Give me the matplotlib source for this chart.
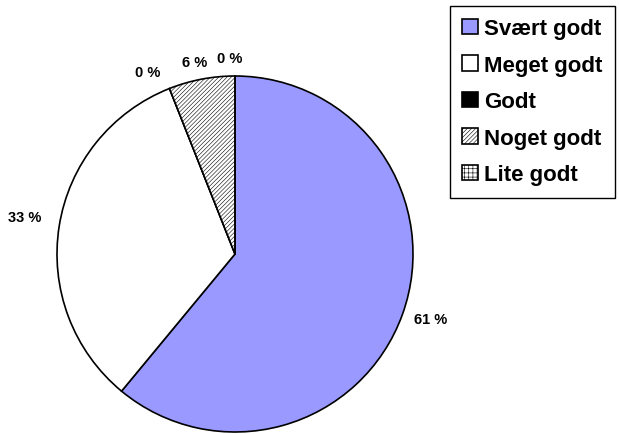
import matplotlib
matplotlib.use('Agg')
import matplotlib.pyplot as plt
import numpy as np

# data
categories = ['Svært godt', 'Meget godt', 'Godt', 'Noget godt', 'Lite godt']
values = [61, 33, 0, 6, 0]
colors = ['#9999FF', 'white', 'black', 'white', 'white']
hatches = ['', '', '', '////////', '++++']

plt.rcParams['font.family'] = ['Liberation Sans', 'DejaVu Sans']
plt.rcParams['hatch.linewidth'] = 0.4

fig = plt.figure(figsize=(6.19, 4.35), dpi=100)
ax = fig.add_axes([57/619, 2/435, 356/619, 356/435])

wedges, _ = ax.pie(values, colors=colors, startangle=90, counterclock=False,
                   wedgeprops=dict(edgecolor='black', linewidth=1.2))
for w, h in zip(wedges, hatches):
    w.set_hatch(h)
ax.set_xlim(-1, 1)
ax.set_ylim(-1, 1)
ax.set_aspect('equal')

# percentage labels outside the pie
total = sum(values)
start = 90.0
for v in values:
    ang = np.deg2rad(start - 360.0 * v / total / 2)
    start -= 360.0 * v / total
    x, y = np.cos(ang), np.sin(ang)
    r = 1.07
    dx = 0.0
    if x > 0.3:
        ha = 'left'
    elif x < -0.3:
        ha = 'right'
        dx = -0.03
    else:
        ha = 'center'
        dx = -0.03
    if y > 0.5:
        va = 'bottom'
        r = 1.06
    elif y < 0:
        va = 'center'
    else:
        va = 'bottom'
    ax.text(r * x + dx, r * y, f'{v} %', ha=ha, va=va, fontsize=10.5,
            fontweight='bold', clip_on=False)

leg = fig.legend(wedges, categories, loc='upper right',
                 bbox_to_anchor=(615/619, 1 - 7/435),
                 prop=dict(size=16, weight='bold'),
                 handlelength=0.7, handleheight=0.7, handletextpad=0.3,
                 labelspacing=0.7, borderpad=0.55, borderaxespad=0,
                 fancybox=False, edgecolor='black', framealpha=1)
leg.get_frame().set_linewidth(1.0)

plt.savefig('out.png', dpi=100)
